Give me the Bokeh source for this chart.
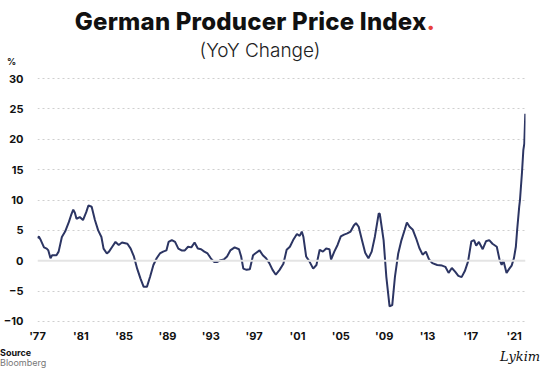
from bokeh.plotting import figure
from bokeh.models import Range1d, FixedTicker, Span, ColumnDataSource, Div
from bokeh.layouts import column
from bokeh.embed import file_html
from bokeh.resources import INLINE

# Decimal year of observation
years = [
    1977.00, 1977.12, 1977.30, 1977.60, 1977.85, 1978.00, 1978.20, 1978.35, 1978.75, 1978.95,
    1979.25, 1979.55, 1979.90, 1980.10, 1980.30, 1980.45, 1980.60, 1980.90, 1981.20, 1981.50,
    1981.70, 1982.00, 1982.30, 1982.60, 1982.90, 1983.10, 1983.40, 1983.60, 1983.90, 1984.20,
    1984.50, 1984.80, 1985.30, 1985.60, 1985.90, 1986.20, 1986.50, 1986.80, 1987.10, 1987.40,
    1987.70, 1988.00, 1988.30, 1988.60, 1988.90, 1989.10, 1989.40, 1989.70, 1990.00, 1990.30,
    1990.60, 1990.90, 1991.20, 1991.50, 1991.80, 1992.10, 1992.40, 1992.70, 1993.00, 1993.30,
    1993.60, 1993.90, 1994.20, 1994.50, 1994.80, 1995.20, 1995.60, 1995.80, 1996.00, 1996.30,
    1996.60, 1996.90, 1997.10, 1997.50, 1997.80, 1998.10, 1998.40, 1998.70, 1999.00, 1999.35,
    1999.70, 2000.00, 2000.30, 2000.60, 2000.95, 2001.20, 2001.40, 2001.55, 2001.80, 2002.10,
    2002.45, 2002.75, 2003.05, 2003.35, 2003.65, 2003.95, 2004.10, 2004.40, 2004.70, 2005.00,
    2005.30, 2005.60, 2005.90, 2006.20, 2006.40, 2006.65, 2006.95, 2007.25, 2007.55, 2007.85,
    2008.15, 2008.50, 2008.60, 2008.95, 2009.20, 2009.50, 2009.75, 2010.00, 2010.30, 2010.60,
    2010.90, 2011.10, 2011.35, 2011.65, 2011.95, 2012.25, 2012.55, 2012.85, 2013.15, 2013.45,
    2013.90, 2014.35, 2014.65, 2014.95, 2015.25, 2015.55, 2015.85, 2016.15, 2016.45, 2016.75,
    2017.05, 2017.30, 2017.50, 2017.75, 2018.10, 2018.40, 2018.70, 2019.00, 2019.40, 2019.65,
    2019.85, 2020.00, 2020.30, 2020.56, 2020.77, 2020.98, 2021.16, 2021.28, 2021.47, 2021.54,
    2021.72, 2021.85, 2021.94, 2022.03,
]

# German PPI, year-over-year change (%)
ppi = [
    3.7, 4.0, 3.4, 2.2, 2.0, 1.7, 0.4, 0.9, 0.9, 1.5,
    3.9, 4.8, 6.4, 7.5, 8.4, 7.9, 6.9, 7.2, 6.7, 8.0,
    9.1, 8.9, 6.7, 5.0, 3.9, 2.0, 1.2, 1.5, 2.3, 3.1,
    2.6, 3.0, 2.8, 2.0, 0.7, -1.3, -2.9, -4.3, -4.3, -2.6,
    -0.7, 0.4, 1.2, 1.5, 1.7, 3.1, 3.4, 3.1, 2.0, 1.7,
    1.7, 2.3, 2.2, 3.0, 2.0, 1.9, 1.5, 1.2, 0.4, -0.2,
    -0.2, 0.1, 0.2, 0.7, 1.7, 2.2, 1.9, 0.7, -1.3, -1.5,
    -1.4, 0.9, 1.2, 1.7, 0.9, 0.4, -0.4, -1.5, -2.3, -1.5,
    -0.5, 1.8, 2.3, 3.4, 4.4, 4.1, 4.8, 3.9, 0.7, -0.1,
    -1.3, -0.7, 1.8, 1.5, 2.0, 1.9, 0.2, 1.5, 2.6, 4.0,
    4.3, 4.5, 4.8, 5.8, 6.2, 5.6, 3.4, 1.3, 0.4, 1.5,
    4.0, 7.8, 7.7, 3.4, -2.6, -7.5, -7.3, -2.6, 1.2, 3.4,
    5.1, 6.3, 5.6, 5.1, 3.7, 2.1, 1.0, 1.5, 0.2, -0.4,
    -0.7, -0.8, -1.0, -2.0, -1.2, -1.8, -2.5, -2.7, -1.7, -0.1,
    3.2, 3.4, 2.5, 3.1, 1.9, 3.2, 3.4, 2.8, 2.3, 0.2,
    -0.7, 0.1, -2.0, -1.3, -0.8, 0.4, 2.3, 5.1, 8.9, 10.0,
    14.4, 18.2, 19.3, 24.2,
]

x_ticks = [1977, 1981, 1985, 1989, 1993, 1997, 2001, 2005, 2009, 2013, 2017, 2021]
x_labels = ["'77", "'81", "'85", "'89", "'93", "'97", "'01", "'05", "'09", "'13", "'17", "'21"]
y_ticks = [-10, -5, 0, 5, 10, 15, 20, 25, 30]

title_text = "German Producer Price Index"
subtitle_text = "(YoY Change)"
unit_text = "%"
source_head = "Source"
source_text = "Bloomberg"
signature = "Lykim"

FONT = "Inter"

src = ColumnDataSource(data=dict(x=years, y=ppi))

p = figure(width=534, height=275,
           x_range=Range1d(1977, 2022.05), y_range=Range1d(-10.5, 31),
           output_backend="svg", toolbar_location=None,
           min_border_left=30, min_border_right=9,
           min_border_top=2, min_border_bottom=20)
p.outline_line_color = None
p.background_fill_color = "white"
p.border_fill_color = "white"

p.xaxis.ticker = FixedTicker(ticks=x_ticks)
p.xaxis.major_label_overrides = {t: l for t, l in zip(x_ticks, x_labels)}
p.yaxis.ticker = FixedTicker(ticks=y_ticks)
for ax in (p.xaxis, p.yaxis):
    ax.axis_line_color = None
    ax.major_tick_line_color = None
    ax.minor_tick_line_color = None
    ax.major_label_text_font = FONT
    ax.major_label_text_font_style = "bold"
    ax.major_label_text_font_size = "11px"
    ax.major_label_text_color = "#111111"
p.yaxis.major_label_standoff = 8
p.xaxis.major_tick_out = 0
p.xaxis.major_tick_in = 0
p.xaxis.minor_tick_out = 0
p.xaxis.minor_tick_in = 0
p.xaxis.major_label_standoff = 4

p.xgrid.visible = False
p.ygrid.ticker = FixedTicker(ticks=[t for t in y_ticks if t != 0])
p.ygrid.grid_line_color = "#cfcfcf"
p.ygrid.grid_line_dash = "2 3"
p.ygrid.grid_line_width = 1

p.add_layout(Span(location=0, dimension="width", line_color="#e4e4e4", line_width=2))

p.line("x", "y", source=src, line_color="#2c3563", line_width=2)

header = Div(width=534, height=70, margin=0, text=f"""
<div style="position:relative;width:534px;height:70px;font-family:Inter,sans-serif;color:#111;">
  <div style="position:absolute;left:0;top:8px;width:510px;text-align:center;font-weight:800;
              font-size:24px;line-height:28px;letter-spacing:0.2px;">{title_text}<span style="color:#e8413b;">.</span></div>
  <div style="position:absolute;left:0;top:39px;width:520px;text-align:center;font-weight:300;
              font-size:19px;line-height:24px;color:#222;">{subtitle_text}</div>
  <div style="position:absolute;left:7px;top:57px;font-weight:700;font-size:9px;line-height:10px;">{unit_text}</div>
</div>""")

footer = Div(width=534, height=26, margin=0, text=f"""
<div style="position:relative;width:534px;height:26px;font-family:Inter,sans-serif;">
  <div style="position:absolute;left:0;top:3px;font-weight:700;font-size:9px;line-height:10px;color:#111;">{source_head}</div>
  <div style="position:absolute;left:0;top:13px;font-weight:400;font-size:9px;line-height:10px;color:#777;">{source_text}</div>
  <div style="position:absolute;left:500px;top:4px;font-family:'DejaVu Serif',serif;font-style:italic;
              font-size:13px;line-height:16px;color:#111;">{signature}</div>
</div>""")

layout = column(header, p, footer, spacing=0, margin=0)

open("out.html", "w").write(file_html(layout, INLINE))
